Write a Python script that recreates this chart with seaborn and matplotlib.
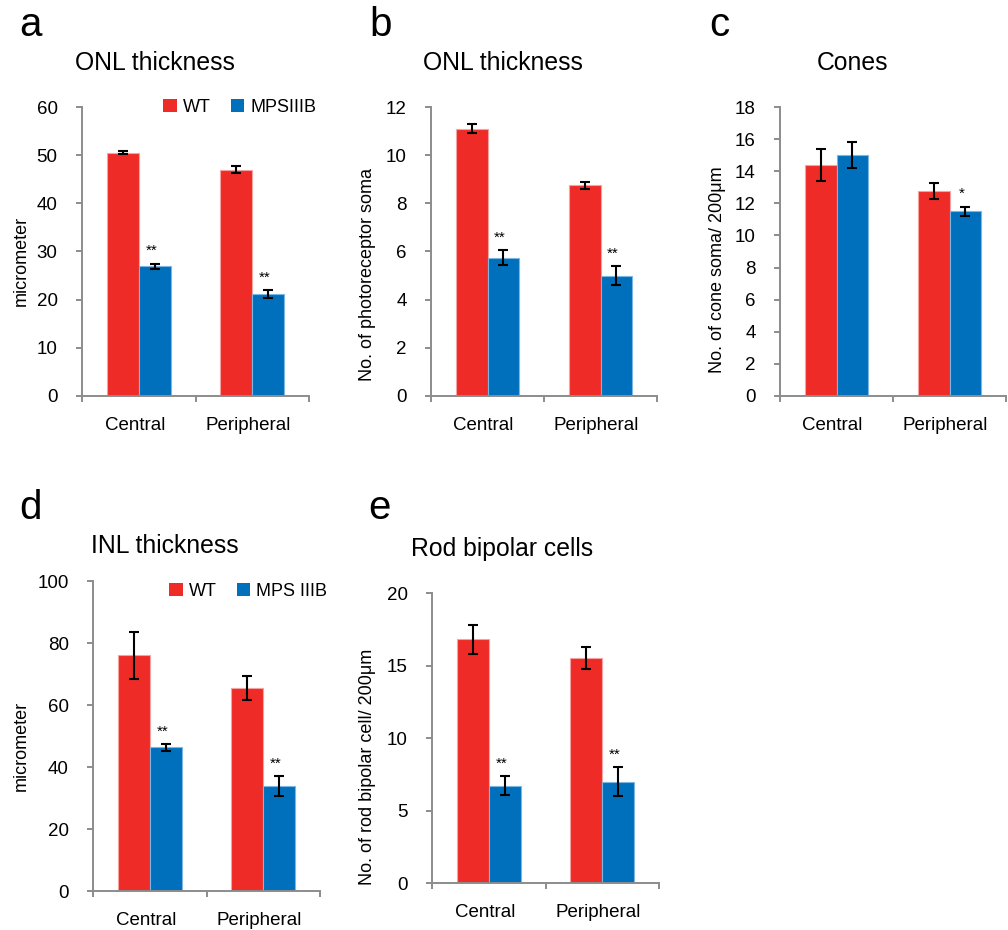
import numpy as np
import pandas as pd
import matplotlib
matplotlib.use("Agg")
import matplotlib.pyplot as plt
import matplotlib.patches as mpatches
import matplotlib.transforms as mtrans
import seaborn as sns

# ---------------- data ----------------
REGIONS = ["Central", "Peripheral"]
GROUPS = ["WT", "MPSIIIB"]

# panel a: ONL thickness (micrometer)
a_wt = [50.5, 47.0]
a_wt_err = [0.35, 0.7]
a_mps = [26.9, 21.2]
a_mps_err = [0.6, 0.8]
a_sig = ["**", "**"]

# panel b: ONL thickness (No. of photoreceptor soma)
b_wt = [11.1, 8.75]
b_wt_err = [0.2, 0.15]
b_mps = [5.75, 5.0]
b_mps_err = [0.3, 0.4]
b_sig = ["**", "**"]

# panel c: Cones
c_wt = [14.4, 12.75]
c_wt_err = [1.0, 0.5]
c_mps = [15.0, 11.5]
c_mps_err = [0.8, 0.3]
c_sig = ["", "*"]

# panel d: INL thickness
d_wt = [76.0, 65.5]
d_wt_err = [7.5, 4.0]
d_mps = [46.3, 33.8]
d_mps_err = [1.0, 3.3]
d_sig = ["**", "**"]

# panel e: Rod bipolar cells
e_wt = [16.8, 15.5]
e_wt_err = [1.0, 0.75]
e_mps = [6.7, 7.0]
e_mps_err = [0.65, 1.0]
e_sig = ["**", "**"]

LETTERS = ["a", "b", "c", "d", "e"]
TITLES = ["ONL thickness", "ONL thickness", "Cones", "INL thickness", "Rod bipolar cells"]
YLABELS = ["micrometer", "No. of photoreceptor soma", "No. of cone soma/ 200\u03bcm",
           "micrometer", "No. of rod bipolar cell/ 200\u03bcm"]
YTICKS = [[0, 10, 20, 30, 40, 50, 60],
          [0, 2, 4, 6, 8, 10, 12],
          [0, 2, 4, 6, 8, 10, 12, 14, 16, 18],
          [0, 20, 40, 60, 80, 100],
          [0, 5, 10, 15, 20]]
LEGEND_A = ["WT", "MPSIIIB"]
LEGEND_D = ["WT", "MPS IIIB"]

RED = "#EE2B26"
BLUE = "#0070BC"
RED_EDGE = "#F5A3A0"
BLUE_EDGE = "#7DB6E2"
GRAY = "#8C8C8C"

# ---------------- style ----------------
sns.set_style("ticks")
plt.rcParams["font.family"] = ["Liberation Sans", "DejaVu Sans"]
plt.rcParams["text.color"] = "black"
plt.rcParams["xtick.labelcolor"] = "black"
plt.rcParams["ytick.labelcolor"] = "black"
plt.rcParams["axes.labelcolor"] = "black"

W, H = 1008, 930
fig = plt.figure(figsize=(W / 100, H / 100), dpi=100)


def px_axes(l, t, r, b):
    return fig.add_axes([l / W, 1 - b / H, (r - l) / W, (b - t) / H])


def fig_xy(x, y):
    return x / W, 1 - y / H


panels = [
    (a_wt, a_wt_err, a_mps, a_mps_err, a_sig),
    (b_wt, b_wt_err, b_mps, b_mps_err, b_sig),
    (c_wt, c_wt_err, c_mps, c_mps_err, c_sig),
    (d_wt, d_wt_err, d_mps, d_mps_err, d_sig),
    (e_wt, e_wt_err, e_mps, e_mps_err, e_sig),
]

boxes = [(82, 107, 309, 396), (431, 107, 657, 396), (780, 107, 1006, 396),
         (93, 581, 320, 891), (432, 593, 659, 883)]
title_pos = [(155, 70), (503, 70), (853, 70), (165, 553), (502, 556)]
letter_pos = [(19, 36), (369, 36), (709, 36), (19, 519), (368, 519)]
ylabel_pos = [(21, 261), (368, 274), (717, 270), (21, 746), (368, 767)]
legend_pos = {0: ((163, 107), LEGEND_A), 3: ((169, 591), LEGEND_D)}

for i, (wt, wt_err, mps, mps_err, sig) in enumerate(panels):
    ax = px_axes(*boxes[i])
    df = pd.DataFrame({
        "region": REGIONS * 2,
        "genotype": [GROUPS[0]] * 2 + [GROUPS[1]] * 2,
        "value": list(wt) + list(mps),
    })
    sns.barplot(data=df, x="region", y="value", hue="genotype", order=REGIONS,
                hue_order=GROUPS, palette=[RED, BLUE], width=0.565, gap=0,
                errorbar=None, legend=False, ax=ax, saturation=1)
    bar_conts = list(ax.containers)
    # bar edges
    for cont, ec in zip(bar_conts, [RED_EDGE, BLUE_EDGE]):
        for p in cont.patches:
            p.set_edgecolor(ec)
            p.set_linewidth(0.8)
    # error bars
    errs = [wt_err, mps_err]
    means = [wt, mps]
    for k, cont in enumerate(bar_conts):
        xs = [p.get_x() + p.get_width() / 2 for p in cont.patches]
        ax.errorbar(xs, means[k], yerr=errs[k], fmt="none", ecolor="black",
                    elinewidth=1.5, capsize=3.6, capthick=1.5, zorder=5)
    # significance stars
    cont = bar_conts[1]
    for j, p in enumerate(cont.patches):
        if sig[j]:
            xc = p.get_x() + p.get_width() / 2
            top = mps[j] + mps_err[j]
            ax.annotate(sig[j], xy=(xc, top), xytext=(-2.5, 4),
                        textcoords="offset points", ha="center", va="bottom",
                        fontsize=11, color="black")

    yt = YTICKS[i]
    ax.set_ylim(yt[0], yt[-1])
    ax.set_yticks(yt)
    ax.set_yticklabels([str(v) for v in yt])
    ax.set_xlim(-0.5, 1.5)
    ax.set_xticks([-0.5, 0.5, 1.5])
    ax.set_xticklabels(["", "", ""])
    ax.set_xticks([0, 1], minor=True)
    ax.set_xticklabels(REGIONS, minor=True)
    ax.set_xlabel("")
    ax.set_ylabel("")
    ax.tick_params(axis="x", which="major", direction="out", length=4.5,
                   width=1.4, color=GRAY)
    ax.tick_params(axis="x", which="minor", length=0, pad=15, labelsize=13.5,
                   labelcolor="black")
    ax.tick_params(axis="y", direction="out", length=4.5, width=1.4,
                   color=GRAY, pad=13, labelsize=13.5, labelcolor="black")
    shift = mtrans.ScaledTranslation(-4 / 100, 0, fig.dpi_scale_trans)
    for lab in ax.get_xticklabels(minor=True):
        lab.set_transform(lab.get_transform() + shift)
    for s in ["top", "right"]:
        ax.spines[s].set_visible(False)
    for s in ["left", "bottom"]:
        ax.spines[s].set_color(GRAY)
        ax.spines[s].set_linewidth(1.4)
    ax.set_facecolor("white")

    # texts
    fig.text(*fig_xy(*title_pos[i]), TITLES[i], ha="center", va="baseline",
             fontsize=17.8, color="black")
    fig.text(*fig_xy(*letter_pos[i]), LETTERS[i], ha="left", va="baseline",
             fontsize=29, color="black")
    fig.text(*fig_xy(*ylabel_pos[i]), YLABELS[i], ha="center", va="center",
             rotation=90, fontsize=13, color="black")

    if i in legend_pos:
        (lx, ly), labels = legend_pos[i]
        handles = [mpatches.Patch(facecolor=RED, edgecolor="none"),
                   mpatches.Patch(facecolor=BLUE, edgecolor="none")]
        leg = ax.legend(handles, labels, loc="center left", ncol=2,
                        bbox_to_anchor=fig_xy(lx, ly), bbox_transform=fig.transFigure,
                        frameon=False, borderpad=0, borderaxespad=0,
                        handlelength=0.75, handleheight=0.75, handletextpad=0.35,
                        columnspacing=1.1, fontsize=13)
        for t in leg.get_texts():
            t.set_color("black")

fig.savefig("out.png", dpi=100, facecolor="white")
